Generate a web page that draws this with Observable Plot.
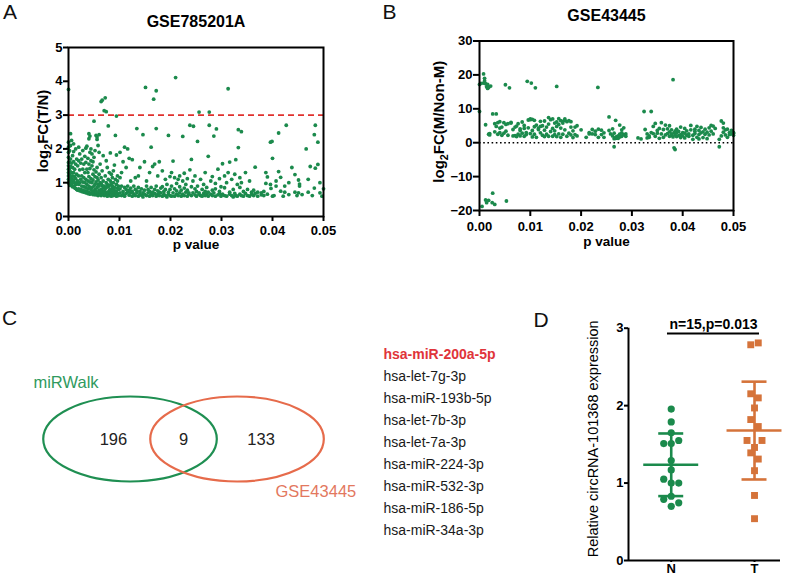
<!DOCTYPE html>
<html><head><meta charset="utf-8">
<script src="https://cdn.jsdelivr.net/npm/d3@7"></script>
<script src="https://cdn.jsdelivr.net/npm/@observablehq/plot@0.6"></script>
<style>
body{margin:0;background:#fff;}
#root{position:relative;width:800px;height:583px;overflow:hidden;background:#fff;font-family:"Liberation Sans",Arial,Helvetica,sans-serif;}
.panel{position:absolute;}
.letter{position:absolute;font-size:21px;line-height:1;color:#111;font-weight:normal;}
</style></head><body><div id="root"></div>
<script>
// ---------------- DATA ----------------
// Panel A: GSE785201A, [p value, list of log2FC(T/N)]
const titleA = "GSE785201A";
const cutoffA = 3;
const aXTicks = [0, 0.01, 0.02, 0.03, 0.04, 0.05];
const aYTicks = [0, 1, 2, 3, 4, 5];
const gseA = [
[0.0000,[1.0,1.1,1.2,1.3,1.4,1.5,1.6,1.75,1.9,2.05,2.2,3.76]],
[0.0002,[0.95,1.08,1.25,1.42,1.6,1.95]],
[0.0004,[0.92,1.05,1.18,1.32,1.48,1.7,2.1,2.45]],
[0.0006,[0.98,1.12,1.3,1.58,2.25]],
[0.0008,[0.88,1.02,1.2,1.45,1.8]],
[0.0010,[0.9,1.08,1.3,1.62,1.92,2.15]],
[0.0012,[0.85,1.0,1.18,1.4]],
[0.0014,[0.83,0.95,1.12,1.55,2.0]],
[0.0016,[0.8,0.98,1.25,1.7]],
[0.0018,[0.78,1.05,1.5]],
[0.0020,[0.82,0.95,1.2,1.65,2.05]],
[0.0022,[0.76,1.0,1.38,1.85]],
[0.0024,[0.8,1.1,1.58]],
[0.0026,[0.74,0.9,1.2,1.7]],
[0.0028,[0.78,1.02,1.4,1.95]],
[0.0030,[0.72,0.88,1.15,1.55]],
[0.0032,[0.76,1.0,1.3,1.78]],
[0.0034,[0.7,0.85,1.1,1.6,2.02]],
[0.0036,[0.74,0.95,1.4,2.08]],
[0.0038,[0.68,0.82,1.05,1.3,1.72]],
[0.0040,[0.72,0.9,1.18,1.55,2.3,2.45]],
[0.0042,[0.66,0.85,1.02,1.42,1.9,2.38]],
[0.0044,[0.7,0.8,1.12,1.65,2.0]],
[0.0046,[0.68,0.86,1.0,1.5,1.85]],
[0.0048,[0.65,0.75,1.08,1.25,1.62]],
[0.0050,[0.7,0.9,1.38,1.75,2.82]],
[0.0052,[0.64,0.8,0.95,1.18,1.95]],
[0.0054,[0.66,0.74,1.02,1.32,2.4]],
[0.0056,[0.64,0.85,1.15,1.45,2.28,2.35]],
[0.0058,[0.62,0.7,0.95,1.08,2.1]],
[0.0060,[0.66,0.78,0.9,1.25,1.9,2.42]],
[0.0062,[0.65,0.72,1.0,1.55]],
[0.0064,[0.62,0.8,0.98,1.15,3.4]],
[0.0066,[0.68,0.74,0.92,1.35,3.44]],
[0.0068,[0.66,0.85,1.05,1.8]],
[0.0070,[0.62,0.76,0.9,3.13]],
[0.0072,[0.7,0.82,1.2,3.51]],
[0.0074,[0.64,0.86,1.0,1.65,3.1]],
[0.0076,[0.6,0.72,0.95,1.45]],
[0.0078,[0.67,0.88,1.1,2.68]],
[0.0080,[0.62,0.77,0.92,1.3]],
[0.0082,[0.7,0.8,1.05,1.88]],
[0.0084,[0.6,0.73,0.98,1.25]],
[0.0086,[0.66,0.84,0.9,1.15]],
[0.0088,[0.62,0.78,1.0,1.35]],
[0.0090,[0.7,0.86,1.52]],
[0.0092,[0.64,0.76,1.1,2.4]],
[0.0094,[0.6,0.72,0.95,1.82,2.97]],
[0.0096,[0.68,0.84,1.05,1.2]],
[0.0098,[0.62,0.8,0.9]],
[0.0101,[0.7,0.82,1.15,1.9]],
[0.0104,[0.62,0.9,1.3]],
[0.0107,[0.74,0.66,1.62]],
[0.0110,[0.6,0.86,2.05]],
[0.0113,[0.68,0.8,1.45]],
[0.0116,[0.72,0.9,2.0]],
[0.0119,[0.63,0.78,1.72]],
[0.0122,[0.7,0.84,1.05]],
[0.0125,[0.6,0.74,1.68]],
[0.0128,[0.67,0.9]],
[0.0131,[0.62,0.8,1.15]],
[0.0134,[0.7,0.76,2.6]],
[0.0137,[0.6,0.86,1.2]],
[0.0140,[0.66,0.74,1.45]],
[0.0143,[0.63,0.82]],
[0.0146,[0.58,0.7,2.42]],
[0.0149,[0.66,0.78,1.62]],
[0.0151,[3.82]],
[0.0153,[0.62,0.9,1.05]],
[0.0156,[0.7,0.8]],
[0.0159,[0.6,0.74,1.3]],
[0.0162,[0.66,0.86,2.05]],
[0.0165,[0.62,0.72,1.48]],
[0.0167,[3.47]],
[0.0169,[0.68,0.8,1.55]],
[0.0172,[0.6,0.9,2.6,3.72]],
[0.0175,[0.66,0.76,1.2]],
[0.0178,[0.62,0.72,1.62]],
[0.0181,[0.7,0.84]],
[0.0184,[0.6,0.88,1.35]],
[0.0187,[0.66,0.74]],
[0.0190,[0.62,0.8,1.1]],
[0.0193,[0.58,0.95]],
[0.0196,[0.66,0.72,2.4]],
[0.0199,[0.62,0.8,1.18]],
[0.0202,[0.6,0.9,1.3]],
[0.0205,[0.7,1.64]],
[0.0208,[0.6,0.82,1.15]],
[0.0210,[4.11]],
[0.0212,[0.66,0.76,0.98]],
[0.0215,[0.62,1.1]],
[0.0218,[0.7,0.88,1.2]],
[0.0221,[0.6,0.78]],
[0.0224,[0.66,1.05,2.37]],
[0.0227,[0.62,0.84,1.28]],
[0.0230,[0.72,0.95]],
[0.0233,[0.6,0.78,1.12]],
[0.0236,[0.66,0.7]],
[0.0238,[1.38,2.7]],
[0.0241,[0.62,0.88,1.69]],
[0.0244,[0.7,1.05]],
[0.0245,[2.67]],
[0.0248,[0.64,0.82,1.2]],
[0.0251,[0.6,0.74]],
[0.0253,[0.9,2.22]],
[0.0256,[0.66,0.7,3.09]],
[0.0259,[0.62,1.1]],
[0.0262,[0.6,0.8]],
[0.0265,[0.68,0.95]],
[0.0268,[0.62,0.74,1.3]],
[0.0271,[0.66,0.86]],
[0.0274,[0.6,0.72,1.78]],
[0.0276,[2.7,3.09]],
[0.0279,[0.66,1.05]],
[0.0282,[0.62,0.78,1.18]],
[0.0285,[0.7,2.38]],
[0.0288,[0.6,0.82,0.98]],
[0.0290,[2.59]],
[0.0293,[0.64,1.4]],
[0.0296,[0.68,0.74,1.12]],
[0.0299,[0.6,0.88]],
[0.0302,[0.66,1.56]],
[0.0306,[0.62,0.85,1.2]],
[0.0310,[0.6,1.0]],
[0.0313,[1.3,3.78]],
[0.0316,[0.66,0.72,1.61]],
[0.0320,[0.62,1.1]],
[0.0323,[0.58,0.8]],
[0.0326,[0.68,1.25]],
[0.0328,[0.62,1.68]],
[0.0331,[0.6,0.95]],
[0.0333,[2.04,2.57]],
[0.0336,[0.66,0.86,1.15]],
[0.0339,[0.62,1.0,2.51]],
[0.0343,[0.6,0.74]],
[0.0347,[0.68,1.3]],
[0.0351,[0.62,0.8]],
[0.0355,[0.6,1.05]],
[0.0359,[0.66,0.72]],
[0.0363,[0.62,0.78]],
[0.0366,[0.68,1.46]],
[0.0371,[0.6,0.72]],
[0.0378,[0.64,0.7]],
[0.0383,[0.62,0.74]],
[0.0387,[0.98,1.3]],
[0.0390,[0.66,1.17]],
[0.0396,[0.95,2.2]],
[0.0397,[0.83]],
[0.0399,[2.22]],
[0.0400,[0.6,1.72]],
[0.0403,[0.62]],
[0.0407,[0.9,1.05]],
[0.0412,[1.33,2.47]],
[0.0416,[0.75,1.16]],
[0.0421,[0.6]],
[0.0424,[0.72,0.9]],
[0.0427,[2.7]],
[0.0432,[0.65,1.0]],
[0.0438,[1.45]],
[0.0444,[0.72,1.24]],
[0.0448,[0.62]],
[0.0451,[0.7,1.08]],
[0.0453,[0.9,0.96]],
[0.0458,[0.65]],
[0.0466,[2.0]],
[0.0470,[0.72,1.1]],
[0.0474,[1.48]],
[0.0478,[0.62]],
[0.0482,[0.84,2.42]],
[0.0484,[1.43,2.7]],
[0.0489,[1.54,2.2]],
[0.0493,[0.7,1.0]],
[0.0497,[0.6]],
[0.0500,[0.82]]
];

// Panel B: GSE43445, [p value, list of log2FC(M/Non-M)]
const titleB = "GSE43445";
const bXTicks = [0, 0.01, 0.02, 0.03, 0.04, 0.05];
const bYTicks = [-20, -10, 0, 10, 20, 30];
const gseB = [
[0.0000,[9.2,17.2]],[0.0003,[17.5]],[0.0005,[-18.8]],[0.0008,[20.3,17.6]],
[0.0010,[19.0,18.2]],[0.0012,[17.4,5.3,-16.9]],[0.0014,[16.5,-17.7]],[0.0016,[16.0,17.2]],
[0.0018,[16.3,2.5,-17.0]],[0.0020,[2.7,2.3]],[0.0022,[16.7]],[0.0025,[-17.7]],
[0.0026,[8.5,-14.9]],[0.0030,[5.6,3.2,-18.2]],[0.0033,[8.5,4.8]],[0.0036,[5.9,2.5]],
[0.0040,[6.2,4.3,3.0]],[0.0044,[2.2,4.6]],[0.0048,[5.9,2.8]],[0.0051,[17.1]],
[0.0052,[3.4,5.4]],[0.0053,[-17.2]],[0.0056,[2.2,5.6]],[0.0059,[16.2]],
[0.0062,[6.0,5.8]],[0.0066,[3.9,2.0]],[0.0070,[2.1,4.6]],[0.0073,[4.9,1.8]],
[0.0076,[2.5,5.6]],[0.0080,[3.6,2.0,4.1]],[0.0084,[2.8,6.1]],[0.0088,[1.9,4.2,5.1]],
[0.0092,[3.0,2.4]],[0.0094,[18.1]],[0.0096,[6.7,4.4]],[0.0100,[2.7,7.0,6.8]],
[0.0102,[17.6]],[0.0104,[1.7,3.6,6.9]],[0.0108,[4.7,2.5,6.6]],[0.0110,[16.2]],
[0.0112,[1.6,5.2]],[0.0116,[3.9,4.3]],[0.0120,[2.9,6.3,4.8]],[0.0124,[2.2,5.0]],
[0.0128,[3.7,6.4,1.8]],[0.0132,[2.5,4.6]],[0.0136,[1.9,7.4,5.5]],[0.0140,[3.3,6.8]],
[0.0144,[1.9,4.2,7.0]],[0.0148,[5.8,2.4,3.5]],[0.0152,[1.8,6.1,4.8,16.6]],[0.0156,[7.1,5.4,2.6]],
[0.0160,[1.6,6.5,4.3]],[0.0164,[6.3,5.8,2.5]],[0.0168,[6.6,3.8,7.0]],[0.0172,[1.9,6.2]],
[0.0176,[2.8,6.5]],[0.0180,[4.6,2.3,6.2]],[0.0184,[1.5,3.5]],[0.0188,[2.4,4.6]],
[0.0192,[5.0,2.0]],[0.0200,[3.8]],[0.0210,[1.6]],[0.0216,[2.6,3.0]],
[0.0222,[2.6,3.9]],[0.0228,[2.4,3.4]],[0.0233,[16.3]],[0.0234,[1.6,4.0]],
[0.0240,[2.4,3.7]],[0.0245,[1.6,2.9]],[0.0255,[7.6,3.6]],[0.0258,[2.6]],
[0.0262,[2.0,4.1]],[0.0265,[-1.2,1.2,2.8]],[0.0268,[1.4,1.5,1.3,6.6]],[0.0270,[1.6,1.4,1.8]],
[0.0273,[1.5,2.0,1.3]],[0.0276,[2.5,1.7,5.2]],[0.0280,[1.9,3.8,2.9]],[0.0284,[2.4,4.4]],
[0.0288,[2.6,1.9]],[0.0312,[1.4]],[0.0318,[1.1]],[0.0324,[9.2]],
[0.0326,[3.9]],[0.0330,[1.4,2.6]],[0.0334,[2.0,1.6]],[0.0338,[9.2,3.0]],
[0.0342,[2.7,4.8]],[0.0346,[5.7,1.9]],[0.0350,[2.8,3.6]],[0.0354,[1.3,4.2]],
[0.0358,[2.6,5.9]],[0.0362,[3.9,1.6]],[0.0366,[2.3,5.2]],[0.0370,[4.1,2.7]],
[0.0374,[3.2,1.9,5.0]],[0.0378,[2.6,2.2,3.8]],[0.0381,[18.6,1.7]],[0.0383,[-1.5,2.9]],
[0.0385,[-2.0,3.4,2.3]],[0.0388,[4.0,2.9,1.8]],[0.0392,[3.3,2.1]],[0.0396,[2.4,4.6,1.5]],
[0.0400,[3.0,2.0]],[0.0404,[2.8,4.2,1.4]],[0.0408,[3.5,2.2]],[0.0412,[1.9,2.6]],
[0.0416,[5.1,3.8]],[0.0420,[2.2,1.0]],[0.0424,[4.0,2.7,3.4]],[0.0428,[4.8,1.6]],
[0.0432,[3.6,2.4,1.1]],[0.0436,[4.5,2.9]],[0.0440,[3.2,1.5]],[0.0444,[2.5,4.0]],
[0.0448,[1.2,3.1]],[0.0452,[4.4,2.3]],[0.0456,[5.1,3.4]],[0.0460,[4.9,2.6]],
[0.0464,[4.2]],[0.0472,[-1.2,1.0]],[0.0476,[2.0,6.4]],[0.0480,[4.4,3.1,5.8]],
[0.0484,[2.3,3.8]],[0.0488,[1.6,4.0]],[0.0492,[3.0,2.4]],[0.0496,[2.6,3.6]],
[0.0500,[3.0,2.8,2.2]]
];

// Panel C: Venn counts and overlapping miRNAs
const vennSets = ["miRWalk", "GSE43445"];
const vennCounts = [196, 9, 133];   // only miRWalk, shared, only GSE43445
const mirnas = ["hsa-miR-200a-5p","hsa-let-7g-3p","hsa-miR-193b-5p","hsa-let-7b-3p","hsa-let-7a-3p","hsa-miR-224-3p","hsa-miR-532-3p","hsa-miR-186-5p","hsa-miR-34a-3p"];

// Panel D: relative circRNA-101368 expression
const groupsD = ["N", "T"];
const dN = [1.955,1.79,1.51,1.51,1.55,1.65,1.29,1.17,1.05,1.0,1.0,0.79,0.83,0.745,0.70];
const dNcol = [0,0,-1,0,1,0,0,0,-1,0,1,-1,0,1,0];
const dT = [2.786,2.81,2.153,2.10,1.97,1.82,1.73,1.55,1.55,1.46,1.39,1.31,1.16,0.84,0.54];
const dTcol = [-0.5,0.5,-0.5,0.5,0,-0.5,0.5,-1,1,0,-0.5,0.5,0,0,0];
const dYTicks = [0, 1, 2, 3];
const sigText = "n=15,p=0.013";

// ---------------- STYLE ----------------
const FONT = '"Liberation Sans", Arial, Helvetica, sans-serif';
const GREEN = "#1b8a4c";
const ORANGE = "#d5733a";
const RED = "#e0322e";
const VGREEN = "#1f8f52";
const VORANGE = "#e66b4b";
const root = document.getElementById("root");
function baseStyle(){ return {fontFamily: FONT, fontSize: "13px", fontWeight: "bold", color: "#000", background: "transparent", overflow: "visible"}; }
function place(node, left, top){ const d=document.createElement("div"); d.className="panel"; d.style.left=left+"px"; d.style.top=top+"px"; d.appendChild(node); root.appendChild(d); }
function letter(t, left, top){ const d=document.createElement("div"); d.className="letter"; d.style.left=left+"px"; d.style.top=top+"px"; d.textContent=t; root.appendChild(d); }
function subscript(svg, full, prefix, sub, px){
  d3.select(svg).selectAll("text").filter(function(){ return this.textContent === full; }).each(function(){
    const t = d3.select(this); const rest = full.slice(prefix.length + sub.length);
    t.text(null);
    t.append("tspan").text(prefix);
    t.append("tspan").attr("dy", px).attr("font-size", "0.72em").text(sub);
    t.append("tspan").attr("dy", -px).text(rest);
  });
}

// ---------------- PANEL A ----------------
const aRows = gseA.flatMap(([p, vs]) => vs.map(fc => ({p, fc})));
const yLabA = "log2FC(T/N)";
const plotA = Plot.plot({
  width: 340, height: 260, marginLeft: 68, marginRight: 17, marginTop: 47, marginBottom: 44,
  style: baseStyle(),
  x: {domain: [0, 0.05], axis: null}, y: {domain: [0, 5], axis: null},
  marks: [
    Plot.dot(aRows, {x: "p", y: "fc", r: 1.9, fill: GREEN}),
    Plot.ruleY([cutoffA], {stroke: RED, strokeWidth: 1.6, strokeDasharray: "6,4"}),
    Plot.frame({stroke: "#000", strokeWidth: 2}),
    Plot.axisX(aXTicks, {tickFormat: d3.format(".2f"), tickSize: 5, tickPadding: 4, strokeWidth: 2, label: null}),
    Plot.axisY(aYTicks, {tickFormat: d3.format("d"), tickSize: 5, tickPadding: 1, strokeWidth: 2, label: null}),
    Plot.text([titleA], {frameAnchor: "top", dy: -26, fontSize: 16, fontWeight: "bold", lineAnchor: "middle"}),
    Plot.text(["p value"], {frameAnchor: "bottom", dy: 28, fontSize: 13.5, fontWeight: "bold", lineAnchor: "middle"}),
    Plot.text([yLabA], {frameAnchor: "left", dx: -25, dy: -1, rotate: -90, textAnchor: "middle", fontSize: 15, fontWeight: "bold", lineAnchor: "middle"})
  ]
});
subscript(plotA, yLabA, "log", "2", 4);
place(plotA, 0, 0);

// ---------------- PANEL B ----------------
const bRows = gseB.flatMap(([p, vs]) => vs.map(fc => ({p, fc})));
const yLabB = "log2FC(M/Non-M)";
const plotB = Plot.plot({
  width: 420, height: 260, marginLeft: 99, marginRight: 67, marginTop: 40.5, marginBottom: 50,
  style: baseStyle(),
  x: {domain: [0, 0.05], axis: null}, y: {domain: [-20, 30], axis: null},
  marks: [
    Plot.ruleY([0], {stroke: "#000", strokeWidth: 1.6, strokeDasharray: "1.6,2.6"}),
    Plot.dot(bRows, {x: "p", y: "fc", r: 1.9, fill: GREEN}),
    Plot.frame({stroke: "#000", strokeWidth: 2}),
    Plot.axisX(bXTicks, {tickFormat: d3.format(".2f"), tickSize: 6, tickPadding: 5, strokeWidth: 2, label: null}),
    Plot.axisY(bYTicks, {tickFormat: d3.format("d"), tickSize: 6, tickPadding: 1, strokeWidth: 2, label: null}),
    Plot.text([titleB], {frameAnchor: "top", dy: -25.5, fontSize: 16, fontWeight: "bold", lineAnchor: "middle"}),
    Plot.text(["p value"], {frameAnchor: "bottom", dy: 31, fontSize: 13.5, fontWeight: "bold", lineAnchor: "middle"}),
    Plot.text([yLabB], {frameAnchor: "left", dx: -40, dy: -4, rotate: -90, textAnchor: "middle", fontSize: 15, fontWeight: "bold", lineAnchor: "middle"})
  ]
});
subscript(plotB, yLabB, "log", "2", 4);
place(plotB, 380, 0);

// ---------------- PANEL C (Venn) ----------------
const VENN = {rx: 0.811, countX: [-0.16, 0.495, 1.22], labelX: [-0.907, 1.355], labelY: [1.34, -1.22]};
const vennShapes = vennSets.map((name, i) => ({name, cx: i}));
const vennNums = vennCounts.map((n, i) => ({n, x: VENN.countX[i]}));
const vennLabels = vennSets.map((name, i) => ({name, x: VENN.labelX[i], y: VENN.labelY[i]}));
const plotC = Plot.plot({
  width: 380, height: 283, margin: 0,
  style: Object.assign(baseStyle(), {fontWeight: "normal"}),
  x: {domain: [-1.215, 2.336], range: [0, 380], axis: null},
  y: {domain: [-1, 1], range: [181.5, 96.5], axis: null},
  marks: [
    Plot.rect(vennShapes.slice(0, 1), {x1: d => d.cx - VENN.rx, x2: d => d.cx + VENN.rx, y1: -1, y2: 1, rx: 1000, ry: 1000, fill: "none", stroke: VGREEN, strokeWidth: 2.2}),
    Plot.rect(vennShapes.slice(1), {x1: d => d.cx - VENN.rx, x2: d => d.cx + VENN.rx, y1: -1, y2: 1, rx: 1000, ry: 1000, fill: "none", stroke: VORANGE, strokeWidth: 2.2}),
    Plot.text(vennNums, {x: "x", y: 0, text: d => String(d.n), fontSize: 16.5, fill: "#222", lineAnchor: "middle"}),
    Plot.text(vennLabels.slice(0, 1), {x: "x", y: "y", text: "name", textAnchor: "start", fontSize: 16.5, fill: "#2f9a5e", lineAnchor: "middle"}),
    Plot.text(vennLabels.slice(1), {x: "x", y: "y", text: "name", textAnchor: "start", fontSize: 16.5, fill: "#e3785e", lineAnchor: "middle"})
  ]
});
place(plotC, 0, 300);

const plotList = Plot.plot({
  width: 160, height: 283, marginLeft: 3, marginRight: 0, marginTop: 0, marginBottom: 0,
  style: Object.assign(baseStyle(), {fontWeight: "normal"}),
  y: {type: "point", domain: mirnas, range: [43.3, 241.7], axis: null},
  marks: [
    Plot.text(mirnas.slice(0, 1), {y: d => d, text: d => d, frameAnchor: "left", textAnchor: "start", fontSize: 14, fontWeight: "bold", fill: "#e0343a", lineAnchor: "middle"}),
    Plot.text(mirnas.slice(1), {y: d => d, text: d => d, frameAnchor: "left", textAnchor: "start", fontSize: 14, fill: "#1a1a1a", lineAnchor: "middle"})
  ]
});
place(plotList, 380, 300);

// ---------------- PANEL D ----------------
const JIT = 0.09;
const nRows = dN.map((v, i) => ({g: 1, v, j: dNcol[i] * JIT}));
const tRows = dT.map((v, i) => ({g: 2, v, j: dTcol[i] * JIT}));
const stats = [[1, dN, GREEN], [2, dT, ORANGE]].map(([g, vals, c]) => ({g, c, mean: d3.mean(vals), sd: d3.deviation(vals)}));
const xDomD = [0.487, 2.312];
const meanHalf = 0.33, capHalf = 0.15;
const statMarks = stats.flatMap(s => [
  Plot.ruleY([s], {y: "mean", x1: d => d.g - meanHalf, x2: d => d.g + meanHalf, stroke: s.c, strokeWidth: 2.6}),
  Plot.ruleX([s], {x: "g", y1: d => d.mean - d.sd, y2: d => d.mean + d.sd, stroke: s.c, strokeWidth: 2.6}),
  Plot.ruleY([s], {y: d => d.mean + d.sd, x1: d => d.g - capHalf, x2: d => d.g + capHalf, stroke: s.c, strokeWidth: 2.6}),
  Plot.ruleY([s], {y: d => d.mean - d.sd, x1: d => d.g - capHalf, x2: d => d.g + capHalf, stroke: s.c, strokeWidth: 2.6})
]);
const yLabD = "Relative circRNA-101368 expression";
const sigY = 2.93;
const plotD = Plot.plot({
  width: 260, height: 283, marginLeft: 88, marginRight: 20, marginTop: 27.7, marginBottom: 23,
  style: baseStyle(),
  x: {domain: xDomD, axis: null}, y: {domain: [0, 3], axis: null},
  marks: [
    Plot.dot(nRows, {x: d => d.g + d.j, y: "v", r: 3.6, fill: GREEN, symbol: "circle"}),
    Plot.dot(tRows, {x: d => d.g + d.j, y: "v", r: 3.9, fill: ORANGE, symbol: "square"}),
    ...statMarks,
    Plot.ruleY([0], {stroke: "#000", strokeWidth: 2}),
    Plot.ruleX([xDomD[0]], {stroke: "#000", strokeWidth: 2}),
    Plot.axisY(dYTicks, {tickFormat: d3.format("d"), tickSize: 4, tickPadding: 1, strokeWidth: 2, label: null}),
    Plot.axisX([1, 2], {tickFormat: d => groupsD[d - 1], tickSize: 2, tickPadding: 1, strokeWidth: 2, label: null}),
    Plot.ruleY([sigY], {x1: 0.955, x2: 2.06, stroke: "#000", strokeWidth: 2}),
    Plot.text([sigText], {x: 1.508, y: sigY, dy: -9, fontSize: 14, fontWeight: "bold", lineAnchor: "middle"}),
    Plot.text([yLabD], {frameAnchor: "left", dx: -35.3, dy: -5.5, rotate: -90, textAnchor: "middle", fontSize: 14.5, fontWeight: "normal", lineAnchor: "middle"})
  ]
});
place(plotD, 540, 300);

// panel letters
letter("A", 3, 1);
letter("B", 382.5, 1);
letter("C", 2, 307);
letter("D", 533.5, 309);
</script>
</body></html>
